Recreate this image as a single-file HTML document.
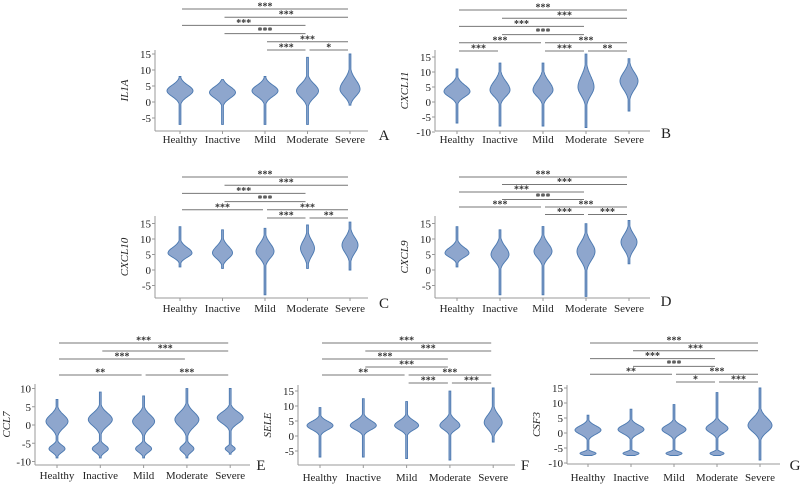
<!DOCTYPE html>
<html><head><meta charset="utf-8"><style>
html,body{margin:0;padding:0;background:#fff;}
svg{display:block;font-family:"Liberation Serif",serif;}
</style></head><body>
<svg id="fig" width="805" height="487" viewBox="0 0 805 487" xmlns="http://www.w3.org/2000/svg"></svg>
<script>
const categories = ["Healthy","Inactive","Mild","Moderate","Severe"];
// violin: [min, max, center, halfWidthPx, spreadUp, spreadDown, center2, width2, spread2]
const violinsA = [[-7,8,3.5,13,2.5,2.5],[-7,7,3,13,2.5,2.5],[-7,8,3.5,13,2.5,2.5],[-7,14,3.5,11,3,3],[-1,15,4,10,4,3]];
const violinsB = [[-7,11,3.5,13,3,2.5],[-8,13,4,10,4,3],[-8,13,4,10,4,3],[-8.5,16,5,8,5,4],[-3,14.5,7,9,4,4]];
const violinsC = [[1,14,5.5,12,2.5,2],[0.5,13,5.5,10,3,2.5],[-8,13.5,6,9,3.5,3],[0.5,14.5,7,7,3.5,3.5],[0,15.5,8,8,3.5,3.5]];
const violinsD = [[1,14,5.5,12,2.5,2],[-8,13,5,9,3.5,3],[-8,14,6,9,3.5,3],[-8.5,15,6,9,4,4],[2,16,9,8,3.5,3.5]];
const violinsE = [[-9,7,1,11,2.5,2.5,-6.5,8,1.4],[-9,9,1.5,12,2.5,2.5,-6.5,8,1.4],[-9,8,1,11,2.5,2.5,-6.5,8,1.4],[-9,10,1.5,12,2.8,2.8,-6.5,7,1.4],[-8,10,2,13,2.2,2.2,-6.5,5,0.9]];
const violinsF = [[-7,9.5,3.5,13,2,2],[-7,12.5,3.5,13,2.3,2],[-7.5,11.5,3.5,12,2.3,2],[-8,15,3.5,10,2.5,2],[-2,16,4.5,9,3.5,3]];
const violinsG = [[-7.5,6,1,13,2,2,-6.8,8,0.8],[-7.5,8,1.2,13,2,2,-6.8,8,0.8],[-7.5,9.5,1.2,12,2,2,-6.8,8,0.8],[-7.5,13.5,1.5,11,2.2,2,-6.8,7,0.8],[-9,15,2.5,12,3.5,3]];
// brackets: [from, to, label]
const bracketsA = [[0,4,"***"],[1,4,"***"],[0,3,"***"],[1,3,"***"],[2,4,"***"],[2,3,"***"],[3,4,"*"]];
const levelsA = [0,1,2,3,4,5,5];
const bracketsB = [[0,4,"***"],[1,4,"***"],[0,3,"***"],[1,3,"***"],[0,2,"***"],[2,4,"***"],[0,1,"***"],[2,3,"***"],[3,4,"**"]];
const levelsB = [0,1,2,3,4,4,5,5,5];
const bracketsC = [[0,4,"***"],[1,4,"***"],[0,3,"***"],[1,3,"***"],[0,2,"***"],[2,4,"***"],[2,3,"***"],[3,4,"**"]];
const levelsC = [0,1,2,3,4,4,5,5];
const bracketsD = [[0,4,"***"],[1,4,"***"],[0,3,"***"],[1,3,"***"],[0,2,"***"],[2,4,"***"],[2,3,"***"],[3,4,"***"]];
const levelsD = [0,1,2,3,4,4,5,5];
const bracketsE = [[0,4,"***"],[1,4,"***"],[0,3,"***"],[0,2,"**"],[2,4,"***"]];
const levelsE = [0,1,2,4,4];
const bracketsF = [[0,4,"***"],[1,4,"***"],[0,3,"***"],[1,3,"***"],[0,2,"**"],[2,4,"***"],[2,3,"***"],[3,4,"***"]];
const levelsF = [0,1,2,3,4,4,5,5];
const bracketsG = [[0,4,"***"],[1,4,"***"],[0,3,"***"],[1,3,"***"],[0,2,"**"],[2,4,"***"],[2,3,"*"],[3,4,"***"]];
const levelsG = [0,1,2,3,4,4,5,5];
const ticksAB = [15,10,5,0,-5];
const ticksB = [15,10,5,0,-5,-10];
const ticksE = [10,5,0,-5,-10];

const panels = [
 {id:"A",title:"IL1A",ox:155,axR:368,yTop:50,yBot:131,zero:102,ppu:3.2,cx0:180,step:42.5,ticks:ticksAB,v:violinsA,b:bracketsA,lv:levelsA,by0:9,bstep:8.2,lx:384,ly:140,laby:143},
 {id:"B",title:"CXCL11",ox:435,axR:650,yTop:50,yBot:131,zero:102,ppu:3.0,cx0:457,step:43,ticks:ticksB,v:violinsB,b:bracketsB,lv:levelsB,by0:10,bstep:8.2,lx:666,ly:138,laby:143},
 {id:"C",title:"CXCL10",ox:155,axR:368,yTop:216,yBot:298,zero:270,ppu:3.1,cx0:180,step:42.5,ticks:ticksAB,v:violinsC,b:bracketsC,lv:levelsC,by0:177,bstep:8.2,lx:384,ly:308,laby:312},
 {id:"D",title:"CXCL9",ox:435,axR:650,yTop:216,yBot:298,zero:270,ppu:3.1,cx0:457,step:43,ticks:ticksAB,v:violinsD,b:bracketsD,lv:levelsD,by0:177,bstep:7.5,lx:666,ly:306,laby:312},
 {id:"E",title:"CCL7",ox:35,axR:250,yTop:384,yBot:465,zero:425,ppu:3.65,cx0:57,step:43.3,ticks:ticksE,v:violinsE,b:bracketsE,lv:levelsE,by0:343,bstep:8,lx:261,ly:470,laby:479},
 {id:"F",title:"SELE",ox:298,axR:515,yTop:385,yBot:465,zero:436,ppu:3.0,cx0:320,step:43.3,ticks:ticksAB,v:violinsF,b:bracketsF,lv:levelsF,by0:343,bstep:8,lx:525,ly:470,laby:481},
 {id:"G",title:"CSF3",ox:567,axR:780,yTop:385,yBot:464,zero:433,ppu:3.0,cx0:588,step:43,ticks:ticksB,v:violinsG,b:bracketsG,lv:levelsG,by0:343,bstep:7.8,lx:795,ly:470,laby:481}
];

const NS="http://www.w3.org/2000/svg";
const svg=document.getElementById("fig");
function mk(tag,attrs,parent){const e=document.createElementNS(NS,tag);for(const k in attrs)e.setAttribute(k,attrs[k]);(parent||svg).appendChild(e);return e;}

panels.forEach(p=>{
  const g=mk("g",{});
  
  
  const yS=v=>p.zero-v*p.ppu;
  const xS=i=>p.cx0+i*p.step;
  const ya=mk("line",{x1:p.ox,y1:p.yTop,x2:p.ox,y2:p.yBot,stroke:"#999","stroke-width":1},g);
  
  
  const xa=mk("line",{x1:p.ox,y1:p.yBot,x2:p.axR,y2:p.yBot,stroke:"#999","stroke-width":1},g);
  
  
  p.ticks.forEach(t=>{
    const y=yS(t);
    mk("line",{x1:p.ox-3,y1:y,x2:p.ox,y2:y,stroke:"#999","stroke-width":1},g);
    const tx=mk("text",{x:p.ox-4,y:y+4,"font-size":11,"text-anchor":"end",fill:"#222"},g);
    tx.textContent=t;
    
    
  });
  const tcy=(p.yTop+p.yBot)/2;
  const tX=p.id==="E"?p.ox-25:p.ox-27;
  const tt=mk("text",{x:tX,y:tcy,"font-size":11,"font-style":"italic","text-anchor":"middle",fill:"#222",transform:`rotate(-90 ${tX} ${tcy})`},g);
  tt.textContent=p.title;
  
  
  categories.forEach((c,i)=>{
    const x=xS(i);
    mk("line",{x1:x,y1:p.yBot,x2:x,y2:p.yBot+3,stroke:"#999","stroke-width":1},g);
    const lt=mk("text",{x:x,y:p.laby,"font-size":11,"text-anchor":"middle",fill:"#222"},g);
    lt.textContent=c;
    
    
    const d=p.v[i];
    const [mn,mx,c1,w1,su,sd,c2,w2,s2]=d;
    const L=[],R=[];
    for(let v=mn;v<=mx+1e-9;v+=0.08){
      const s=v>=c1?su:sd;
      let w=w1*Math.exp(-Math.pow((v-c1)/s,2));
      if(c2!==undefined) w+=w2*Math.exp(-Math.pow((v-c2)/s2,2));
      w=Math.max(w,0.9);
      L.push([x-w,yS(v)]);R.push([x+w,yS(v)]);
    }
    const pts=L.concat(R.reverse()).map(q=>q[0].toFixed(1)+","+q[1].toFixed(1)).join(" ");
    const vp=mk("polygon",{points:pts,fill:"#8ea6cd",stroke:"#4a78b0","stroke-width":0.9},g);
    
    
  });
  p.b.forEach((b,k)=>{
    const y=p.by0+p.lv[k]*p.bstep;
    const x1=xS(b[0])+2,x2=xS(b[1])-2;
    const bl=mk("line",{x1:x1,y1:y,x2:x2,y2:y,stroke:"#777","stroke-width":1},g);
    
    
    const st=mk("text",{x:(x1+x2)/2,y:y+0.5,"font-size":10,"font-weight":"bold","text-anchor":"middle",fill:"#333"},g);
    st.textContent=b[2];
    
    
  });
  const pl=mk("text",{x:p.lx,y:p.ly,"font-size":15,"text-anchor":"middle",fill:"#222"},g);
  pl.textContent=p.id;
  
  
});
</script>
</body></html>
